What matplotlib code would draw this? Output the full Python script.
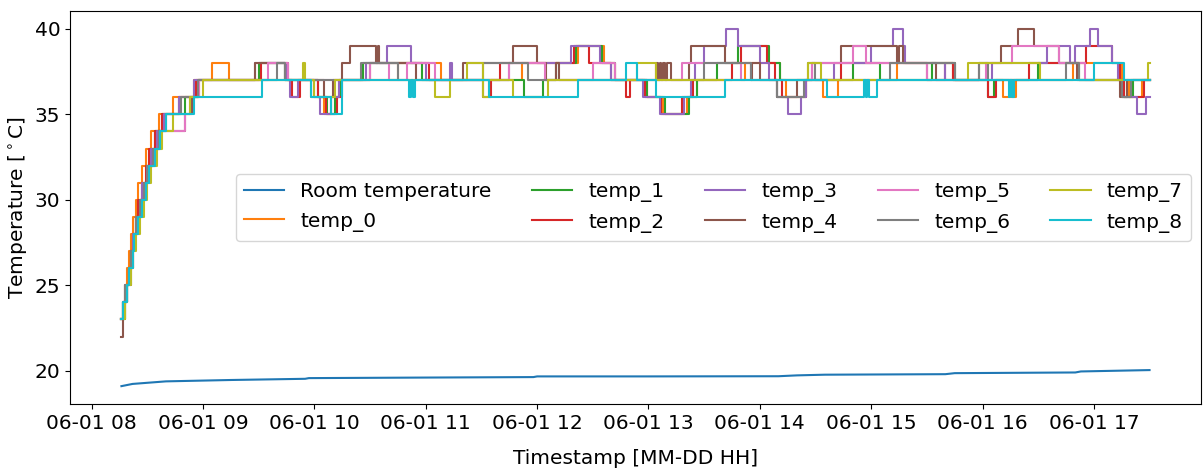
import numpy as np
import pandas as pd
import matplotlib
matplotlib.use("Agg")
import matplotlib.pyplot as plt
import matplotlib.dates as mdates

DAY = "2022-06-01 "
END_TIME = "17:30"
FS = 14.5

room_times = ["08:16", "08:22", "08:40", "09:15", "09:55", "09:57", "10:55", "11:58",
              "12:00", "13:00", "14:10", "14:20", "14:35", "15:40", "15:45", "16:50",
              "16:53", "17:30"]
room_values = [19.10, 19.23, 19.38, 19.46, 19.53, 19.57, 19.60, 19.63,
               19.67, 19.67, 19.68, 19.73, 19.77, 19.80, 19.86, 19.90,
               19.96, 20.04]

# step series: (time the value changes, new value)
temp_0 = [("08:16", 23), ("08:17", 24), ("08:18", 25), ("08:19", 26), ("08:20", 27),
          ("08:21", 28), ("08:22", 29), ("08:24", 30), ("08:25", 31), ("08:27", 32),
          ("08:29", 33), ("08:32", 34), ("08:36", 35), ("08:44", 36), ("08:55", 37),
          ("09:05", 38), ("09:14", 37), ("09:58", 36), ("10:05", 35), ("10:09", 36),
          ("10:13", 37), ("10:45", 38), ("11:08", 37), ("11:52", 38), ("12:22", 39),
          ("12:36", 38), ("12:42", 37), ("12:59", 36), ("13:08", 35), ("13:21", 36),
          ("13:26", 37), ("13:52", 38), ("14:11", 37), ("14:14", 36), ("14:25", 37),
          ("14:34", 36), ("14:42", 37), ("15:14", 38), ("15:44", 37), ("16:11", 36),
          ("16:18", 37), ("16:49", 38), ("17:15", 37), ("17:19", 36), ("17:26", 37)]

temp_1 = [("08:16", 23), ("08:18", 24), ("08:19", 25), ("08:20", 26), ("08:21", 27),
          ("08:23", 28), ("08:24", 29), ("08:26", 30), ("08:28", 31), ("08:30", 32),
          ("08:32", 33), ("08:34", 34), ("08:38", 35), ("08:50", 36), ("08:57", 37),
          ("09:30", 38), ("09:44", 37), ("10:02", 36), ("10:07", 35), ("10:11", 36),
          ("10:14", 37), ("10:26", 38), ("10:58", 37), ("11:53", 36), ("12:03", 37),
          ("12:10", 38), ("12:21", 39), ("12:35", 38), ("12:42", 37), ("12:59", 36),
          ("13:09", 35), ("13:22", 36), ("13:26", 37), ("13:37", 38), ("13:48", 39),
          ("14:05", 38), ("14:11", 37), ("14:50", 38), ("15:05", 37), ("15:33", 38),
          ("15:45", 37), ("16:03", 36), ("16:06", 37), ("16:30", 38), ("16:52", 37),
          ("17:16", 36), ("17:21", 37)]

temp_2 = [("08:16", 23), ("08:17", 24), ("08:19", 25), ("08:20", 26), ("08:21", 27),
          ("08:22", 28), ("08:24", 29), ("08:25", 30), ("08:27", 31), ("08:29", 32),
          ("08:31", 33), ("08:34", 34), ("08:38", 35), ("08:47", 36), ("08:56", 37),
          ("09:31", 38), ("09:46", 37), ("09:48", 36), ("09:52", 37), ("10:02", 36),
          ("10:06", 35), ("10:12", 36), ("10:15", 37), ("10:30", 38), ("11:02", 37),
          ("11:31", 36), ("11:35", 37), ("11:40", 38), ("12:20", 39), ("12:28", 38),
          ("12:40", 37), ("12:48", 36), ("12:50", 37), ("12:58", 36), ("13:07", 35),
          ("13:18", 36), ("13:24", 37), ("13:45", 38), ("13:50", 39), ("14:04", 38),
          ("14:08", 37), ("14:12", 36), ("14:25", 37), ("14:44", 38), ("15:30", 37),
          ("15:40", 38), ("15:44", 37), ("16:03", 36), ("16:07", 37), ("16:25", 38),
          ("16:56", 39), ("17:10", 38), ("17:14", 37), ("17:16", 36), ("17:27", 37)]

temp_3 = [("08:16", 23), ("08:17", 24), ("08:18", 25), ("08:20", 26), ("08:21", 27),
          ("08:22", 28), ("08:24", 29), ("08:26", 30), ("08:27", 31), ("08:30", 32),
          ("08:32", 33), ("08:35", 34), ("08:39", 35), ("08:47", 36), ("08:55", 37),
          ("09:28", 38), ("09:45", 37), ("09:47", 36), ("09:51", 37), ("10:00", 36),
          ("10:03", 35), ("10:09", 36), ("10:13", 37), ("10:28", 38), ("10:39", 39),
          ("10:52", 38), ("11:00", 37), ("11:13", 38), ("11:14", 37), ("11:45", 38),
          ("12:18", 39), ("12:34", 38), ("12:40", 37), ("12:57", 36), ("13:06", 35),
          ("13:19", 36), ("13:23", 37), ("13:25", 38), ("13:30", 39), ("13:42", 40),
          ("13:48", 39), ("14:00", 38), ("14:05", 37), ("14:09", 36), ("14:15", 35),
          ("14:22", 36), ("14:25", 37), ("14:40", 38), ("15:00", 39), ("15:12", 40),
          ("15:17", 39), ("15:18", 38), ("15:40", 37), ("16:05", 38), ("16:35", 39),
          ("16:47", 38), ("16:50", 39), ("16:58", 40), ("17:02", 39), ("17:10", 38),
          ("17:13", 37), ("17:15", 36), ("17:23", 35), ("17:28", 36)]

temp_4 = [("08:16", 22), ("08:17", 23), ("08:18", 24), ("08:19", 25), ("08:21", 26),
          ("08:22", 27), ("08:23", 28), ("08:25", 29), ("08:26", 30), ("08:28", 31),
          ("08:30", 32), ("08:33", 33), ("08:36", 34), ("08:50", 35), ("08:54", 36),
          ("08:58", 37), ("09:28", 38), ("09:44", 37), ("10:05", 36), ("10:10", 37),
          ("10:15", 38), ("10:19", 39), ("10:33", 38), ("10:34", 39), ("10:35", 38),
          ("10:55", 37), ("11:20", 38), ("11:47", 39), ("12:00", 38), ("12:05", 37),
          ("12:10", 38), ("12:12", 37), ("13:04", 38), ("13:05", 37), ("13:06", 38),
          ("13:07", 37), ("13:08", 38), ("13:09", 37), ("13:10", 38), ("13:12", 37),
          ("13:22", 38), ("13:23", 39), ("13:41", 38), ("13:55", 37), ("13:56", 38),
          ("14:00", 37), ("14:09", 36), ("14:20", 37), ("14:28", 38), ("14:44", 39),
          ("15:14", 38), ("15:15", 39), ("15:17", 38), ("15:35", 37), ("15:58", 38),
          ("16:10", 39), ("16:19", 40), ("16:28", 39), ("16:41", 38), ("16:51", 37),
          ("17:14", 36), ("17:18", 37)]

temp_5 = [("08:16", 23), ("08:17", 24), ("08:19", 25), ("08:20", 26), ("08:22", 27),
          ("08:23", 28), ("08:25", 29), ("08:27", 30), ("08:29", 31), ("08:31", 32),
          ("08:34", 33), ("08:37", 34), ("08:50", 35), ("08:53", 36), ("08:58", 37),
          ("09:35", 38), ("09:46", 37), ("10:30", 38), ("10:40", 37), ("10:50", 38),
          ("11:05", 37), ("11:45", 38), ("12:04", 37), ("12:30", 38), ("12:42", 37),
          ("13:18", 38), ("13:50", 37), ("14:28", 38), ("14:50", 39), ("14:57", 38),
          ("15:30", 37), ("16:02", 38), ("16:16", 39), ("16:41", 38), ("16:55", 37)]

temp_6 = [("08:16", 23), ("08:17", 24), ("08:18", 25), ("08:20", 26), ("08:21", 27),
          ("08:23", 28), ("08:24", 29), ("08:26", 30), ("08:28", 31), ("08:30", 32),
          ("08:33", 33), ("08:36", 34), ("08:40", 35), ("08:48", 36), ("08:57", 37),
          ("09:40", 38), ("09:44", 37), ("10:25", 38), ("10:45", 37), ("11:31", 38),
          ("11:55", 37), ("13:30", 38), ("13:55", 37), ("14:09", 36), ("14:24", 37),
          ("14:26", 38), ("14:30", 37), ("15:10", 38), ("15:45", 37), ("15:58", 38),
          ("16:03", 37), ("16:45", 38), ("16:52", 37), ("17:15", 36), ("17:20", 37)]

temp_7 = [("08:16", 23), ("08:18", 24), ("08:19", 25), ("08:21", 26), ("08:22", 27),
          ("08:24", 28), ("08:26", 29), ("08:28", 30), ("08:30", 31), ("08:32", 32),
          ("08:35", 33), ("08:38", 34), ("08:44", 35), ("08:53", 36), ("09:00", 37),
          ("09:54", 38), ("09:55", 37), ("10:00", 36), ("10:11", 37), ("11:05", 36),
          ("11:13", 37), ("11:22", 38), ("11:31", 36), ("11:34", 37), ("11:47", 36),
          ("12:06", 37), ("12:54", 38), ("13:04", 37), ("14:26", 38), ("14:33", 37),
          ("15:52", 38), ("16:31", 37), ("17:29", 38)]

temp_8 = [("08:16", 23), ("08:17", 24), ("08:19", 25), ("08:20", 26), ("08:22", 27),
          ("08:23", 28), ("08:25", 29), ("08:27", 30), ("08:29", 31), ("08:31", 32),
          ("08:34", 33), ("08:37", 34), ("08:40", 35), ("08:55", 36), ("09:32", 37),
          ("09:58", 36), ("10:09", 35), ("10:15", 37), ("10:51", 36), ("10:52", 37),
          ("10:53", 36), ("10:54", 37), ("11:34", 36), ("12:22", 37), ("12:48", 38),
          ("12:54", 37), ("13:04", 36), ("13:41", 37), ("14:36", 36), ("14:56", 37),
          ("14:57", 36), ("14:58", 37), ("14:59", 36), ("15:03", 37), ("16:14", 36),
          ("16:15", 37), ("16:16", 36), ("16:17", 37), ("17:00", 38), ("17:16", 37)]

sensors = {
    "temp_0": temp_0, "temp_1": temp_1, "temp_2": temp_2,
    "temp_3": temp_3, "temp_4": temp_4, "temp_5": temp_5,
    "temp_6": temp_6, "temp_7": temp_7, "temp_8": temp_8,
}


def to_time(hhmm):
    return pd.to_datetime([DAY + t for t in hhmm])


fig = plt.figure(figsize=(12.03, 4.70), dpi=100)
ax = fig.add_axes([0.0582, 0.1404, 0.9401, 0.8362])

ax.plot(to_time(room_times), room_values, color="C0", label="Room temperature")

for i, (name, steps) in enumerate(sensors.items()):
    times = [t for t, _ in steps] + [END_TIME]
    vals = [v for _, v in steps]
    vals = vals + [vals[-1]]
    ax.plot(to_time(times), vals, drawstyle="steps-post",
            color=f"C{i + 1}", label=name)

ax.xaxis.set_major_locator(mdates.HourLocator())
ax.xaxis.set_major_formatter(mdates.DateFormatter("%m-%d %H"))
ax.set_yticks([20, 25, 30, 35, 40])
ax.tick_params(labelsize=FS)

ax.set_xlabel("Timestamp [MM-DD HH]", fontsize=FS, labelpad=11.5)
ax.set_ylabel(r"Temperature [$^\circ$C]", fontsize=FS)

ax.legend(loc="center right", ncol=5, fontsize=FS)

fig.savefig("out.png", dpi=100)
